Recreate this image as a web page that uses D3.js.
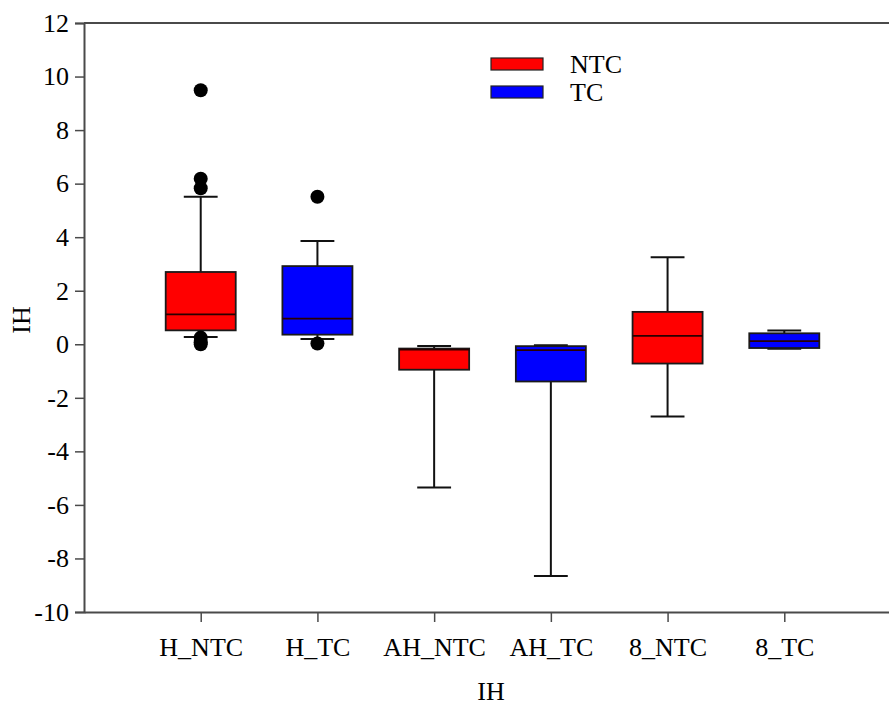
<!DOCTYPE html>
<html>
<head>
<meta charset="utf-8">
<script src="https://cdn.jsdelivr.net/npm/d3@7"></script>
<style>
  html, body { margin: 0; padding: 0; background: #fff; }
  svg { display: block; }
  svg text { font-family: "Liberation Serif", "Times New Roman", Times, serif !important; }
</style>
</head>
<body>
<svg id="chart" width="889" height="713"></svg>
<script>
// Box-plot summary statistics for each group
const categories   = ["H_NTC", "H_TC", "AH_NTC", "AH_TC", "8_NTC", "8_TC"];
const groups       = ["NTC", "TC", "NTC", "TC", "NTC", "TC"];
const whiskerLow   = [0.27, 0.20, -5.35, -8.66, -2.70, -0.17];
const q1           = [0.52, 0.36, -0.95, -1.39, -0.72, -0.14];
const median       = [1.12, 0.96, -0.20, -0.22, 0.31, 0.12];
const q3           = [2.70, 2.92, -0.16, -0.07, 1.21, 0.41];
const whiskerHigh  = [5.51, 3.86, -0.06, -0.04, 3.25, 0.51];
const outliers     = [[9.49, 6.18, 5.83, 0.25, 0.08, 0.0], [5.51, 0.03], [], [], [], []];
const yTicks       = [-10, -8, -6, -4, -2, 0, 2, 4, 6, 8, 10, 12];
const legendLabels = ["NTC", "TC"];
const colors       = { NTC: "#ff0000", TC: "#0000ff" };

const svg = d3.select("#chart");
const margin = { left: 84, top: 23, bottom: 101 };
const plotW = 817;
const plotH = 713 - margin.top - margin.bottom;
const fontSize = 26;

const x = d3.scalePoint().domain(categories).range([margin.left, margin.left + plotW]).padding(1);
const y = d3.scaleLinear().domain([-10, 12]).range([margin.top + plotH, margin.top]);

const step = x.step();
const boxW = step * 0.6;
const capW = step * 0.29;

const axisColor = "#4a4a4a";

// Frame: top line
svg.append("line")
  .attr("x1", margin.left).attr("x2", margin.left + plotW)
  .attr("y1", y(12)).attr("y2", y(12))
  .attr("stroke", axisColor).attr("stroke-width", 2);

// Y axis (plain hyphen for negative labels)
const yAxis = svg.append("g")
  .attr("transform", `translate(${margin.left},0)`)
  .call(d3.axisLeft(y).tickValues(yTicks).tickSize(9).tickPadding(6).tickFormat(d => String(d)));
yAxis.select(".domain").attr("stroke", axisColor).attr("stroke-width", 2);
yAxis.selectAll(".tick line").attr("stroke", axisColor).attr("stroke-width", 1.5);
yAxis.selectAll(".tick text").attr("font-size", fontSize).attr("fill", "#000");

// X axis
const xAxis = svg.append("g")
  .attr("transform", `translate(0,${y(-10)})`)
  .call(d3.axisBottom(x).tickSize(10).tickPadding(16).tickSizeOuter(0));
xAxis.select(".domain").attr("stroke", axisColor).attr("stroke-width", 2);
xAxis.selectAll(".tick line").attr("stroke", axisColor).attr("stroke-width", 1.5);
xAxis.selectAll(".tick text").attr("font-size", fontSize).attr("fill", "#000");

// Axis titles
svg.append("text")
  .attr("x", 491).attr("y", 700)
  .attr("text-anchor", "middle")
  .attr("font-size", fontSize).attr("fill", "#000")
  .text("IH");
svg.append("text")
  .attr("transform", `translate(30,${320}) rotate(-90)`)
  .attr("text-anchor", "middle")
  .attr("font-size", fontSize).attr("fill", "#000")
  .text("IH");

// Boxes
const data = categories.map((c, i) => ({
  cat: c, group: groups[i],
  lo: whiskerLow[i], q1: q1[i], med: median[i], q3: q3[i], hi: whiskerHigh[i],
  out: outliers[i]
}));

const g = svg.append("g");
const box = g.selectAll("g.box").data(data).join("g").attr("class", "box");

// Whisker stems
box.append("line")
  .attr("x1", d => x(d.cat)).attr("x2", d => x(d.cat))
  .attr("y1", d => y(d.hi)).attr("y2", d => y(d.q3))
  .attr("stroke", "#111").attr("stroke-width", 2);
box.append("line")
  .attr("x1", d => x(d.cat)).attr("x2", d => x(d.cat))
  .attr("y1", d => y(d.q1)).attr("y2", d => y(d.lo))
  .attr("stroke", "#111").attr("stroke-width", 2);
// Whisker caps
box.append("line")
  .attr("x1", d => x(d.cat) - capW / 2).attr("x2", d => x(d.cat) + capW / 2)
  .attr("y1", d => y(d.hi)).attr("y2", d => y(d.hi))
  .attr("stroke", "#111").attr("stroke-width", 2);
box.append("line")
  .attr("x1", d => x(d.cat) - capW / 2).attr("x2", d => x(d.cat) + capW / 2)
  .attr("y1", d => y(d.lo)).attr("y2", d => y(d.lo))
  .attr("stroke", "#111").attr("stroke-width", 2);

// Box body
box.append("rect")
  .attr("x", d => x(d.cat) - boxW / 2)
  .attr("width", boxW)
  .attr("y", d => y(d.q3))
  .attr("height", d => y(d.q1) - y(d.q3))
  .attr("fill", d => colors[d.group])
  .attr("stroke", "#1a1a1a").attr("stroke-width", 1.8);

// Median line
box.append("line")
  .attr("x1", d => x(d.cat) - boxW / 2).attr("x2", d => x(d.cat) + boxW / 2)
  .attr("y1", d => y(d.med)).attr("y2", d => y(d.med))
  .attr("stroke", "#2a0000").attr("stroke-width", 1.8);

// Outliers
box.selectAll("circle").data(d => d.out.map(v => ({ cat: d.cat, v })))
  .join("circle")
  .attr("cx", d => x(d.cat)).attr("cy", d => y(d.v))
  .attr("r", 7).attr("fill", "#000");

// Legend
const legend = svg.append("g").selectAll("g").data(legendLabels).join("g")
  .attr("transform", (d, i) => `translate(491,${58 + i * 28})`);
legend.append("rect")
  .attr("width", 52).attr("height", 12)
  .attr("fill", d => colors[d])
  .attr("stroke", "#222").attr("stroke-width", 1.2);
legend.append("text")
  .attr("x", 79).attr("y", 15)
  .attr("font-size", fontSize).attr("fill", "#000")
  .text(d => d);
</script>
</body>
</html>
